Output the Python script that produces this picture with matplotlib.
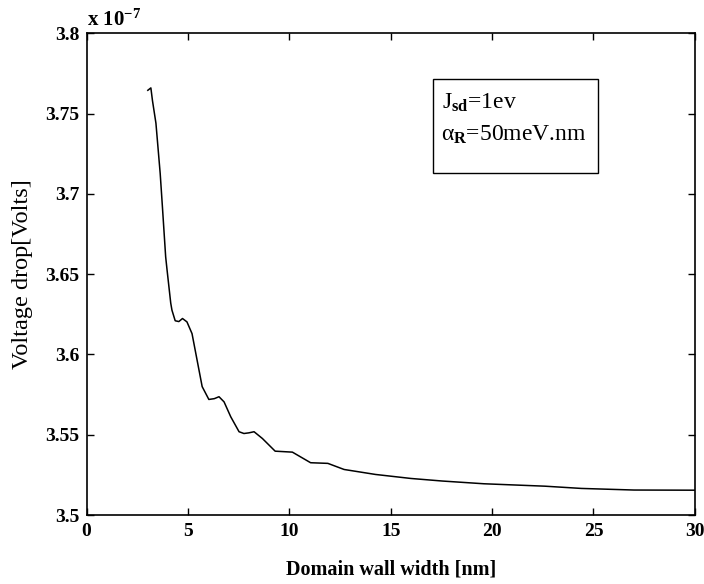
import numpy as np
import matplotlib
matplotlib.use('Agg')
import matplotlib.pyplot as plt
from matplotlib.patches import Rectangle

plt.rcParams['font.family'] = 'Liberation Serif'
plt.rcParams['mathtext.fontset'] = 'custom'
plt.rcParams['mathtext.rm'] = 'Liberation Serif'
plt.rcParams['mathtext.it'] = 'Liberation Serif'
plt.rcParams['mathtext.bf'] = 'Liberation Serif:bold'

# domain wall width [nm] and voltage drop [x 1e-7 V]
width = [3.02, 3.17, 3.25, 3.42, 3.63, 3.74, 3.9, 3.97, 4.15, 4.21, 4.37,
         4.55, 4.73, 4.95, 5.2, 5.45, 5.7, 6.03, 6.3, 6.53, 6.78, 7.11,
         7.52, 7.76, 8.0, 8.26, 8.67, 9.3, 10.15, 11.05, 11.9, 12.7, 14.25,
         16.0, 17.55, 19.6, 22.6, 24.4, 27.0, 30.0]
vdrop = [3.7645, 3.766, 3.758, 3.744, 3.7127, 3.6919, 3.6608, 3.6525, 3.632,
         3.6276, 3.621, 3.6205, 3.6224, 3.6203, 3.613, 3.5965, 3.580, 3.572,
         3.5725, 3.5737, 3.5705, 3.5612, 3.5519, 3.5508, 3.5512, 3.5519,
         3.5477, 3.5398, 3.5392, 3.5326, 3.5322, 3.5284, 3.5253, 3.5228,
         3.5212, 3.5195, 3.518, 3.5166, 3.5156, 3.5155]

xticks = [0, 5, 10, 15, 20, 25, 30]
yticks = [3.5, 3.55, 3.6, 3.65, 3.7, 3.75, 3.8]
ytick_labels = ['3.5', '3.55', '3.6', '3.65', '3.7', '3.75', '3.8']

fig = plt.figure(figsize=(7.04, 5.84), dpi=100)
ax = fig.add_axes([0.123, 0.118, 0.864, 0.825])

ax.plot(width, vdrop, color='black', lw=1.1)

ax.set_xlim(0, 30)
ax.set_ylim(3.5, 3.8)
ax.set_xticks(xticks)
ax.set_yticks(yticks)
ax.set_yticklabels(ytick_labels)
ax.tick_params(direction='in', length=5, width=1, top=True, right=True,
               labelsize=14)
ax.tick_params(axis='x', pad=6)
ax.tick_params(axis='y', pad=5)
for lab in ax.get_xticklabels() + ax.get_yticklabels():
    lab.set_fontweight('bold')
for sp in ax.spines.values():
    sp.set_linewidth(1.2)

ax.set_xlabel('Domain wall width [nm]', fontsize=14.5, fontweight='bold',
              labelpad=14)
ax.set_ylabel('Voltage drop[Volts]', fontsize=17.5)
ax.yaxis.set_label_coords(-0.088, 0.5)

ax.text(0.0, 1.006, r'x 10$^{\mathbf{-7}}$', transform=ax.transAxes,
        fontsize=15, fontweight='bold', ha='left', va='bottom')

# annotation box
ax.add_patch(Rectangle((17.1, 3.7129), 8.1, 0.0585, fill=False,
                       edgecolor='black', lw=1.0))
ax.text(17.55, 3.7533, r'J$_{\mathbf{sd}}$=1ev', fontsize=17, ha='left',
        va='baseline')
ax.text(17.5, 3.7334, r'$\alpha_{\mathbf{R}}$=50meV.nm', fontsize=17,
        ha='left', va='baseline')

fig.savefig('out.png', dpi=100)
